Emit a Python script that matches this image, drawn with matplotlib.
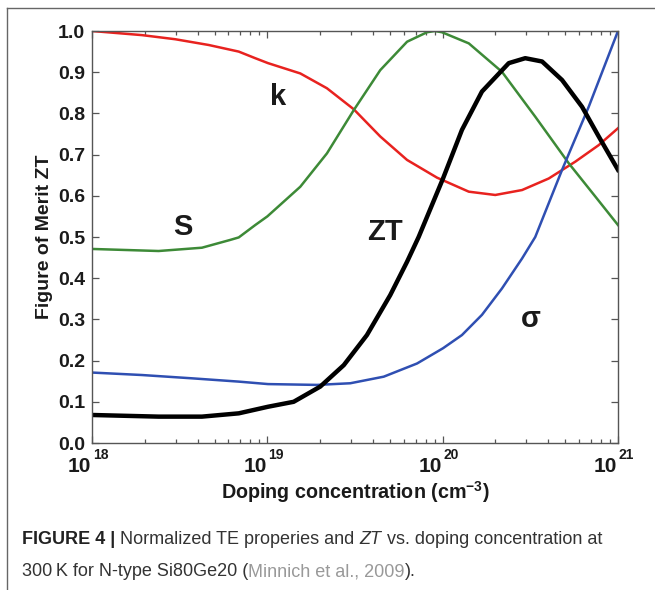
import matplotlib

matplotlib.use("Agg")
import matplotlib.pyplot as plt
from matplotlib.lines import Line2D
from matplotlib.transforms import blended_transform_factory, offset_copy
from matplotlib.ticker import FixedLocator, LogLocator, NullFormatter

plt.rcParams["font.family"] = ["Liberation Sans", "DejaVu Sans"]
plt.rcParams["mathtext.fontset"] = "custom"
plt.rcParams["mathtext.rm"] = "Liberation Sans:bold"
plt.rcParams["mathtext.bf"] = "Liberation Sans:bold"

# values (log10 of doping, normalized value)
k_logn = [18.000, 18.285, 18.475, 18.666, 18.837, 18.931, 19.004, 19.188,
          19.340, 19.493, 19.644, 19.797, 19.968, 20.149, 20.300, 20.453,
          20.605, 20.757, 20.890, 21.000]
k_vals = [1.000, 0.990, 0.980, 0.966, 0.950, 0.934, 0.922, 0.897,
          0.861, 0.810, 0.744, 0.687, 0.644, 0.610, 0.602, 0.614,
          0.642, 0.683, 0.723, 0.764]

s_logn = [18.000, 18.380, 18.627, 18.789, 18.837, 18.931, 19.000, 19.188,
          19.340, 19.493, 19.644, 19.797, 19.911, 19.955, 19.996, 20.149,
          20.338, 20.528, 20.719, 20.871, 21.000]
s_vals = [0.471, 0.466, 0.474, 0.493, 0.499, 0.529, 0.550, 0.622,
          0.703, 0.808, 0.905, 0.974, 0.997, 1.000, 0.997, 0.970,
          0.901, 0.792, 0.679, 0.598, 0.529]

sig_logn = [18.000, 18.285, 18.570, 18.837, 19.004, 19.283, 19.473, 19.664,
            19.854, 20.002, 20.110, 20.224, 20.338, 20.453, 20.528, 20.681,
            20.833, 21.000]
sig_vals = [0.171, 0.165, 0.157, 0.149, 0.143, 0.141, 0.145, 0.161,
            0.193, 0.230, 0.262, 0.311, 0.375, 0.448, 0.500, 0.663,
            0.816, 1.000]

zt_logn = [18.000, 18.380, 18.627, 18.837, 19.004, 19.150, 19.302, 19.436,
           19.568, 19.701, 19.797, 19.863, 20.002, 20.110, 20.224, 20.377,
           20.471, 20.567, 20.681, 20.795, 20.890, 21.000]
zt_vals = [0.068, 0.064, 0.064, 0.072, 0.088, 0.100, 0.137, 0.189,
           0.262, 0.359, 0.440, 0.500, 0.642, 0.760, 0.853, 0.922,
           0.934, 0.926, 0.881, 0.816, 0.744, 0.663]

x_tick_exps = [18, 19, 20, 21]
y_ticks = [0.0, 0.1, 0.2, 0.3, 0.4, 0.5, 0.6, 0.7, 0.8, 0.9, 1.0]

# curve labels: text, log10 x, y
curve_labels = [("k", 19.06, 0.84), ("S", 18.52, 0.524),
                ("ZT", 19.67, 0.512), ("σ", 20.50, 0.30)]


def _pow(values):
    return [10.0 ** v for v in values]


fig = plt.figure(figsize=(6.55, 5.9), dpi=100)
ax = fig.add_axes([92 / 655, 147 / 590, 526 / 655, 412 / 590])

ax.plot(_pow(k_logn), k_vals, color="#e8221f", linewidth=1.8)
ax.plot(_pow(s_logn), s_vals, color="#3d8a37", linewidth=1.8)
ax.plot(_pow(sig_logn), sig_vals, color="#2f4fb2", linewidth=1.8)
ax.plot(_pow(zt_logn), zt_vals, color="black", linewidth=3.2)

for text, lx, ly in curve_labels:
    ax.text(10.0 ** lx, ly, text, fontsize=21, fontweight="bold",
            color="#1a1a1a", ha="center", va="center")

ax.set_xscale("log")
ax.set_xlim(1e18, 1e21)
ax.set_ylim(0, 1)
ax.xaxis.set_major_locator(FixedLocator(_pow(x_tick_exps)))
ax.xaxis.set_major_formatter(NullFormatter())
ax.xaxis.set_minor_locator(LogLocator(base=10, subs=range(2, 10)))
ax.xaxis.set_minor_formatter(NullFormatter())
ax.set_yticks(y_ticks)
ax.set_yticklabels([f"{v:.1f}" for v in y_ticks])

# decade labels: a big "10" with a small raised exponent
under_axis = blended_transform_factory(ax.transData, ax.transAxes)
for e in x_tick_exps:
    base_tr = offset_copy(under_axis, fig=fig, x=-0.5, y=-23, units="dots")
    exp_tr = offset_copy(under_axis, fig=fig, x=1, y=-12, units="dots")
    ax.text(10.0 ** e, 0, "10", transform=base_tr, fontsize=15,
            fontweight="bold", ha="right", va="center", color="#1a1a1a")
    ax.text(10.0 ** e, 0, str(e), transform=exp_tr, fontsize=10,
            fontweight="bold", ha="left", va="center", color="#1a1a1a")

for spine in ax.spines.values():
    spine.set_color("#555555")
    spine.set_linewidth(1.0)
ax.tick_params(which="both", direction="in", top=True, right=True,
               color="#555555", width=0.9)
ax.tick_params(which="major", length=5)
ax.tick_params(which="minor", length=3)
ax.tick_params(axis="y", labelsize=14, pad=5, labelcolor="#1a1a1a")
for lbl in ax.get_yticklabels():
    lbl.set_fontweight("bold")

ax.set_xlabel(r"Doping concentration (cm$^{\mathbf{-3}}$)", fontsize=14.2,
              fontweight="bold", va="center", color="#1a1a1a")
ax.xaxis.set_label_coords(0.5, -49 / 412)
ax.set_ylabel("Figure of Merit ZT", fontsize=14, fontweight="bold",
              va="center", color="#1a1a1a")
ax.yaxis.set_label_coords(-47 / 526, 0.5)

# frame around the figure panel
fig.add_artist(Line2D([7 / 655, 1], [1 - 8 / 590, 1 - 8 / 590],
                      color="#666666", linewidth=1.0))
fig.add_artist(Line2D([7 / 655, 7 / 655], [0, 1 - 8 / 590],
                      color="#666666", linewidth=1.0))

# caption, written as runs of differently styled text
caption_lines = [
    [("FIGURE 4 | ", "bold", "normal", "#222222"),
     ("Normalized TE properies and ", "normal", "normal", "#333333"),
     ("ZT", "normal", "italic", "#333333"),
     (" vs. doping concentration at", "normal", "normal", "#333333")],
    [("300\u2009K for N-type Si80Ge20 (", "normal", "normal", "#333333"),
     ("Minnich et al., 2009", "normal", "normal", "#999999"),
     (").", "normal", "normal", "#333333")],
]
caption_y = [540, 572]

renderer = fig.canvas.get_renderer()
for runs, py in zip(caption_lines, caption_y):
    x = 22 / 655
    for text, weight, style, color in runs:
        t = fig.text(x, 1 - py / 590, text, fontsize=13, fontweight=weight,
                     fontstyle=style, color=color, va="center", ha="left")
        bbox = t.get_window_extent(renderer=renderer)
        x += bbox.width / fig.bbox.width

fig.savefig("out.png", dpi=100)
